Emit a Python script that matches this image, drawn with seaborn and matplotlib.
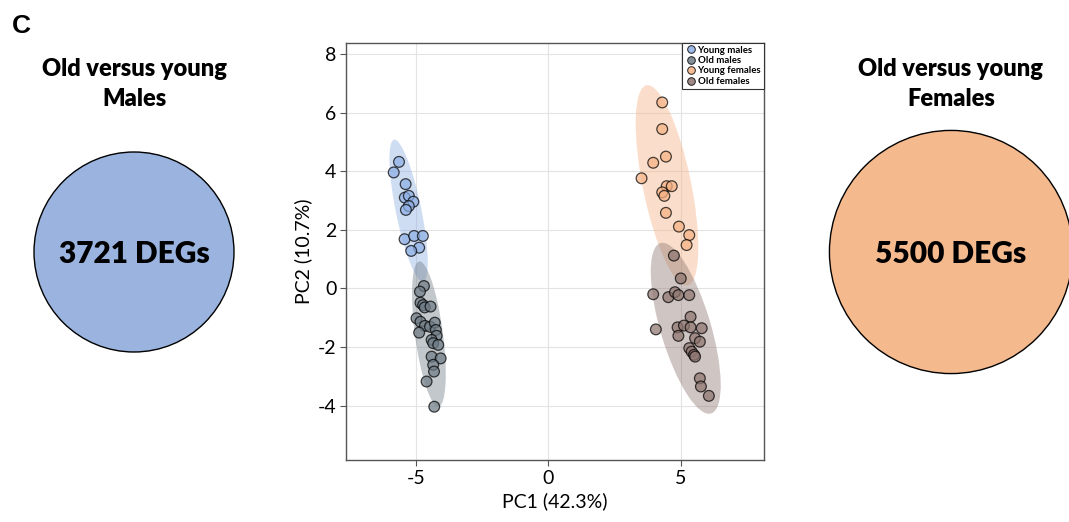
import numpy as np
import pandas as pd
import matplotlib
matplotlib.use("Agg")
import matplotlib.pyplot as plt
import seaborn as sns
from matplotlib.patches import Ellipse, Circle
from matplotlib.lines import Line2D

# ---------------- data ----------------
groups = ["Young males", "Old males", "Young females", "Old females"]

ym_pc1 = [-5.63, -5.83, -5.38, -5.41, -5.26, -5.09, -5.26, -5.37, -5.42, -5.06, -4.73, -4.87, -5.17]
ym_pc2 = [4.32, 3.96, 3.56, 3.10, 3.16, 2.96, 2.81, 2.68, 1.68, 1.79, 1.79, 1.39, 1.28]

om_pc1 = [-4.69, -4.84, -4.82, -4.72, -4.66, -4.44, -4.97, -4.82, -4.65, -4.46, -4.87, -4.28,
          -4.24, -4.21, -4.40, -4.34, -4.15, -4.40, -4.06, -4.34, -4.31, -4.59, -4.30]
om_pc2 = [0.08, -0.11, -0.49, -0.57, -0.65, -0.62, -1.02, -1.14, -1.28, -1.31, -1.51, -1.17,
          -1.42, -1.62, -1.76, -1.87, -1.93, -2.33, -2.39, -2.61, -2.84, -3.18, -4.04]

yf_pc1 = [4.30, 4.30, 4.44, 3.96, 3.52, 4.47, 4.66, 4.30, 4.38, 4.44, 4.93, 5.32, 5.22]
yf_pc2 = [6.35, 5.44, 4.50, 4.29, 3.76, 3.49, 3.49, 3.28, 3.16, 2.58, 2.11, 1.82, 1.48]

of_pc1 = [4.74, 5.00, 3.96, 4.53, 4.78, 4.91, 5.32, 5.37, 4.06, 4.88, 5.12, 5.37, 5.79, 4.91,
          5.54, 5.72, 5.32, 5.41, 5.50, 5.54, 5.72, 5.76, 6.06]
of_pc2 = [1.12, 0.34, -0.20, -0.30, -0.13, -0.23, -0.23, -0.97, -1.40, -1.33, -1.27, -1.33, -1.36,
          -1.62, -1.70, -1.82, -2.04, -2.16, -2.27, -2.33, -3.07, -3.35, -3.67]

x_ticks = [-5, 0, 5]
y_ticks = [-4, -2, 0, 2, 4, 6, 8]
x_label = "PC1 (42.3%)"
y_label = "PC2 (10.7%)"

deg_titles = ["Old versus young\nMales", "Old versus young\nFemales"]
deg_counts = [3721, 5500]
deg_colors = ["#9AB3DF", "#F4B98D"]

palette = {"Young males": "#8DAEE3", "Old males": "#6F7C86",
           "Young females": "#F5B183", "Old females": "#8E7570"}

df = pd.concat([
    pd.DataFrame({"PC1": ym_pc1, "PC2": ym_pc2, "group": "Young males"}),
    pd.DataFrame({"PC1": om_pc1, "PC2": om_pc2, "group": "Old males"}),
    pd.DataFrame({"PC1": yf_pc1, "PC2": yf_pc2, "group": "Young females"}),
    pd.DataFrame({"PC1": of_pc1, "PC2": of_pc2, "group": "Old females"}),
], ignore_index=True)

# ---------------- style ----------------
sns.set_theme(style="white")
plt.rcParams["font.family"] = ["Lato", "DejaVu Sans"]
plt.rcParams["axes.unicode_minus"] = False
plt.rcParams["text.color"] = "black"
plt.rcParams["axes.labelcolor"] = "black"
plt.rcParams["xtick.color"] = "black"
plt.rcParams["ytick.color"] = "black"

W, H = 1069, 522
fig = plt.figure(figsize=(W / 100, H / 100), dpi=100)

# overlay in pixel coords for circles and texts
ov = fig.add_axes([0, 0, 1, 1])
ov.set_xlim(0, W)
ov.set_ylim(H, 0)
ov.axis("off")

ov.text(21, 33, "C", fontsize=19, fontweight="bold", family="Liberation Sans",
        ha="center", va="baseline")

centers_x = [134, 951]
base_r = 100.0
for cx, title, n, col in zip(centers_x, deg_titles, deg_counts, deg_colors):
    r = base_r * np.sqrt(n / deg_counts[0])
    ov.add_patch(Circle((cx, 252), r, facecolor=col, edgecolor="black", lw=1.0))
    l1, l2 = title.split("\n")
    ov.text(cx, 75.5, l1, fontsize=17, fontweight="heavy", ha="center", va="baseline")
    ov.text(cx, 105.5, l2, fontsize=17, fontweight="heavy", ha="center", va="baseline")
    ov.text(cx, 263, f"{n} DEGs", fontsize=21.5, fontweight="heavy", ha="center", va="baseline")

# PCA axes
ax = fig.add_axes([346 / W, 1 - 460 / H, (764 - 346) / W, (460 - 42.7) / H])


def conf_ellipse(x, y, n_std, **kw):
    x = np.asarray(x); y = np.asarray(y)
    cov = np.cov(x, y)
    vals, vecs = np.linalg.eigh(cov)
    order = vals.argsort()[::-1]
    vals, vecs = vals[order], vecs[:, order]
    angle = np.degrees(np.arctan2(vecs[1, 0], vecs[0, 0]))
    w, h = 2 * n_std * np.sqrt(vals)
    return Ellipse((x.mean(), y.mean()), w, h, angle=angle, **kw)


for g in groups:
    sub = df[df["group"] == g]
    ax.add_patch(conf_ellipse(sub["PC1"], sub["PC2"], 2.45,
                              facecolor=palette[g], alpha=0.42, edgecolor="none", zorder=1))

sns.scatterplot(data=df, x="PC1", y="PC2", hue="group", hue_order=groups, palette=palette,
                s=60, edgecolor="black", linewidth=0.9, alpha=0.72, ax=ax, legend=False, zorder=3)

ax.set_xlim(-7.63, 8.14)
ax.set_ylim(-5.86, 8.39)
ax.set_xticks(x_ticks)
ax.set_yticks(y_ticks)
ax.set_xticklabels([str(t) for t in x_ticks])
ax.set_yticklabels([str(t) for t in y_ticks])
ax.grid(True, color="#e3e3e3", lw=0.8, zorder=0)
ax.set_axisbelow(True)
for s in ax.spines.values():
    s.set_color("#555555")
    s.set_linewidth(1.0)
ax.tick_params(axis="both", which="major", length=4, width=0.8, color="#555555",
               labelsize=14, pad=3, bottom=True, left=True)
ax.set_xlabel(x_label, fontsize=14, labelpad=4)
ax.set_ylabel(y_label, fontsize=14, labelpad=4)

handles = [Line2D([0], [0], marker="o", linestyle="none", markersize=5.5,
                  markerfacecolor=palette[g], markeredgecolor="black", markeredgewidth=0.7,
                  alpha=0.85)
           for g in groups]
leg = ax.legend(handles, groups, loc="upper right", borderaxespad=0.0, frameon=True,
                fancybox=False, framealpha=1, edgecolor="#333333",
                prop={"size": 6.9, "weight": "bold"}, handletextpad=0.1,
                labelspacing=0.15, borderpad=0.3, handlelength=1.2)
leg.get_frame().set_linewidth(0.8)

fig.savefig("out.png", dpi=100)
